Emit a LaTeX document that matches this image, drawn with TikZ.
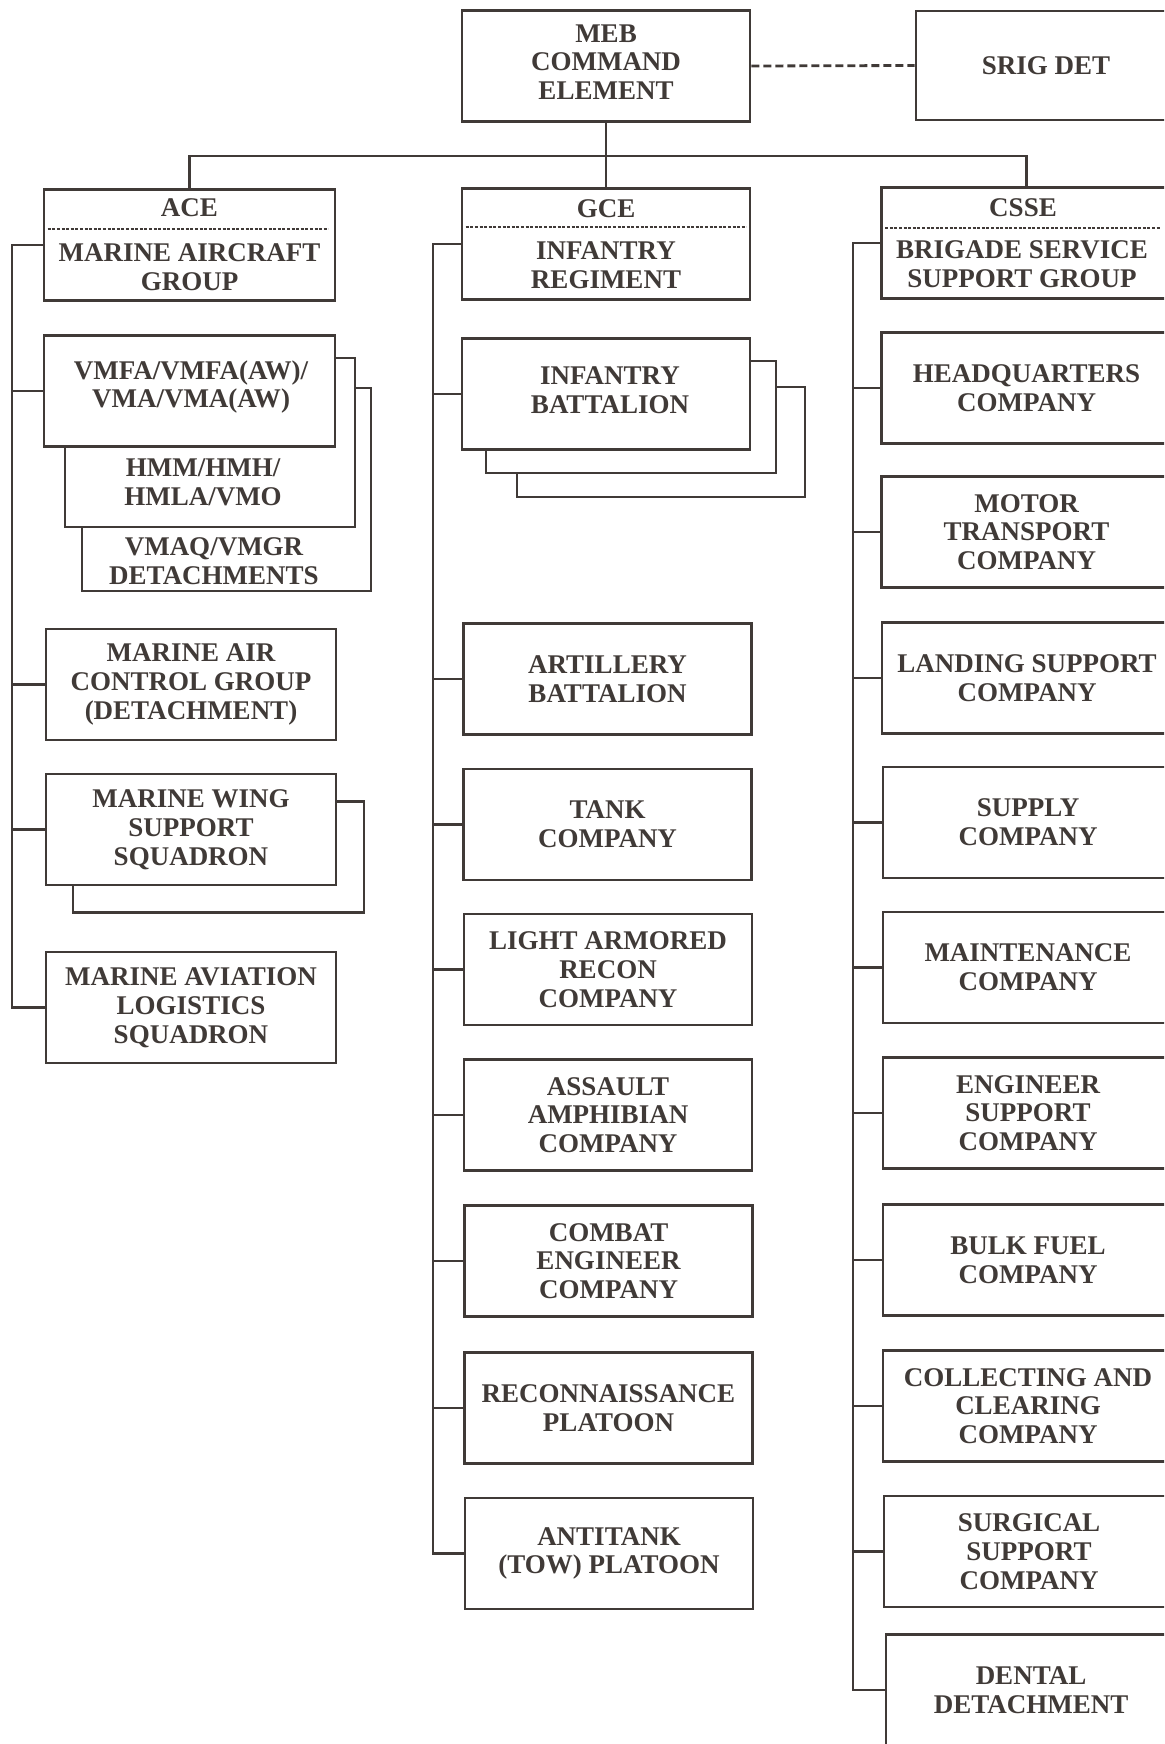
\documentclass[tikz,border=0pt]{standalone}
\usepackage{fontspec}
\setmainfont{Liberation Serif}
\usepackage{tikz}
\usetikzlibrary{positioning}
\definecolor{ink}{RGB}{64,58,55}
\newcommand{\orgfont}{\fontsize{13.5}{14.4}\selectfont\bfseries}
\tikzset{
    unit/.style={draw=ink, fill=white, line width=1.3pt, text=ink, font=\orgfont,
        align=center, inner sep=0pt, minimum width=144pt, minimum height=55.5pt},
    unitlabel/.style={text=ink, font=\orgfont, align=center, inner sep=0pt},
    link/.style={draw=ink, line width=1.3pt},
    liaison/.style={draw=ink, line width=1.4pt, dash pattern=on 4pt off 2pt},
    headsplit/.style={draw=ink, line width=1.2pt, dash pattern=on 1.5pt off 0.8pt},
}

\begin{document}
\begin{tikzpicture}[x=0.5pt, y=-0.5pt, line join=miter]
\useasboundingbox (0,0) rectangle (1164,1744);
\clip (0,0) rectangle (1164,1744);

% command element
\node[unit] (meb) at (606,66) {};
\node[unitlabel] (mebtxt) at (606,62) {MEB\\COMMAND\\ELEMENT};
\node[unit, minimum width=130pt, minimum height=54.5pt] (srig) at (1046,65.5) {SRIG DET};
\draw[liaison] (meb.east) -- (srig.west);

% element headers
\node[unit, minimum width=145.5pt] (ace) at (189.5,245) {};
\node[unitlabel] (acehd) at (189.5,208) {ACE};
\node[unitlabel] (acemain) at (189.5,267) {MARINE AIRCRAFT\\GROUP};
\draw[headsplit] ([xshift=2.5pt,yshift=-20.5pt]ace.north west) -- ([xshift=-4pt,yshift=-20.5pt]ace.north east);

\node[unit] (gce) at (606,244) {};
\node[unitlabel] (gcehd) at (606,209) {GCE};
\node[unitlabel] (gcemain) at (606,265) {INFANTRY\\REGIMENT};
\draw[headsplit] ([xshift=2.5pt,yshift=-20pt]gce.north west) -- ([xshift=-2.5pt,yshift=-20pt]gce.north east);

\node[unit, minimum width=145pt] (csse) at (1026.5,243) {};
\node[unitlabel] (cssehd) at (1023,208) {CSSE};
\node[unitlabel] (cssemain) at (1022,264) {BRIGADE SERVICE\\SUPPORT GROUP};
\draw[headsplit] ([xshift=2.5pt,yshift=-21pt]csse.north west) -- ([xshift=-6pt,yshift=-21pt]csse.north east);

\coordinate (hub) at (606,156);
\draw[link] (meb.south) -- (gce.north);
\draw[link] (ace.north) |- (hub) -| (csse.north);

% ACE column
\node[unit, minimum width=144.5pt, minimum height=101.5pt] (vmaq) at (226.5,489.5) {};
\node[unit, minimum width=145pt, minimum height=84.5pt] (hmm) at (210,442.5) {};
\node[unit, minimum width=145.5pt] (vmfa) at (189.5,391) {};
\node[unitlabel] (vmfatxt) at (191,387) {VMFA/VMFA(AW)/\\VMA/VMA(AW)};
\node[unitlabel] (hmmtxt) at (203,482) {HMM/HMH/\\HMLA/VMO};
\node[unitlabel] (vmaqtxt) at (214,561) {VMAQ/VMGR\\DETACHMENTS};
\node[unit, minimum width=145pt] (macg) at (191,684.5) {MARINE AIR\\CONTROL GROUP\\(DETACHMENT)};
\node[unit, minimum width=145.5pt] (mwssb) at (218.5,857) {};
\node[unit, minimum width=145pt] (mwss) at (191,829.5) {MARINE WING\\SUPPORT\\SQUADRON};
\node[unit, minimum width=145pt] (mals) at (191,1007.5) {MARINE AVIATION\\LOGISTICS\\SQUADRON};

\coordinate (acebus) at (12,0);
\draw[link] (ace.west) -- (ace.west -| acebus) |- (mals.west);
\draw[link] (vmfa.west) -- (vmfa.west -| acebus);
\draw[link] (macg.west) -- (macg.west -| acebus);
\draw[link] (mwss.west) -- (mwss.west -| acebus);

% GCE column
\node[unit, minimum height=55pt] (infbnc) at (661,442) {};
\node[unit, minimum width=145pt, minimum height=56pt] (infbnb) at (631,417) {};
\node[unit] (infbn) at (606,394) {};
\node[unitlabel] (infbntxt) at (610,390) {INFANTRY\\BATTALION};
\node[unit] (arty) at (607.5,679) {ARTILLERY\\BATTALION};
\node[unit] (tank) at (607.5,824.5) {TANK\\COMPANY};
\node[unit] (lar) at (608,969.5) {LIGHT ARMORED\\RECON\\COMPANY};
\node[unit] (aac) at (608,1115) {ASSAULT\\AMPHIBIAN\\COMPANY};
\node[unit] (cec) at (608.5,1261) {COMBAT\\ENGINEER\\COMPANY};
\node[unit] (recon) at (608.5,1408) {RECONNAISSANCE\\PLATOON};
\node[unit] (atk) at (609,1553.5) {ANTITANK\\(TOW) PLATOON};

\coordinate (gcebus) at (433,0);
\draw[link] (gce.west) -- (gce.west -| gcebus) |- (atk.west);
\draw[link] (infbn.west) -- (infbn.west -| gcebus);
\draw[link] (arty.west) -- (arty.west -| gcebus);
\draw[link] (tank.west) -- (tank.west -| gcebus);
\draw[link] (lar.west) -- (lar.west -| gcebus);
\draw[link] (aac.west) -- (aac.west -| gcebus);
\draw[link] (cec.west) -- (cec.west -| gcebus);
\draw[link] (recon.west) -- (recon.west -| gcebus);

% CSSE column
\node[unit, minimum width=145pt] (hq) at (1026.5,388) {HEADQUARTERS\\COMPANY};
\node[unit, minimum width=145pt] (mt) at (1026.5,532) {MOTOR\\TRANSPORT\\COMPANY};
\node[unit, minimum width=145pt] (lsc) at (1027,678) {LANDING SUPPORT\\COMPANY};
\node[unit, minimum width=145pt] (sup) at (1028,822.5) {SUPPLY\\COMPANY};
\node[unit, minimum width=145pt] (mnt) at (1028,967.5) {MAINTENANCE\\COMPANY};
\node[unit, minimum width=145pt] (esc) at (1028,1113) {ENGINEER\\SUPPORT\\COMPANY};
\node[unit, minimum width=145pt] (bf) at (1028,1260) {BULK FUEL\\COMPANY};
\node[unit, minimum width=145pt] (cc) at (1028,1406) {COLLECTING AND\\CLEARING\\COMPANY};
\node[unit, minimum width=145pt] (surg) at (1029,1551.5) {SURGICAL\\SUPPORT\\COMPANY};
\node[unit, minimum width=145pt] (dent) at (1031,1690) {DENTAL\\DETACHMENT};

\coordinate (cssebus) at (853,0);
\draw[link] (csse.west) -- (csse.west -| cssebus) |- (dent.west);
\draw[link] (hq.west) -- (hq.west -| cssebus);
\draw[link] (mt.west) -- (mt.west -| cssebus);
\draw[link] (lsc.west) -- (lsc.west -| cssebus);
\draw[link] (sup.west) -- (sup.west -| cssebus);
\draw[link] (mnt.west) -- (mnt.west -| cssebus);
\draw[link] (esc.west) -- (esc.west -| cssebus);
\draw[link] (bf.west) -- (bf.west -| cssebus);
\draw[link] (cc.west) -- (cc.west -| cssebus);
\draw[link] (surg.west) -- (surg.west -| cssebus);
\end{tikzpicture}
\end{document}
